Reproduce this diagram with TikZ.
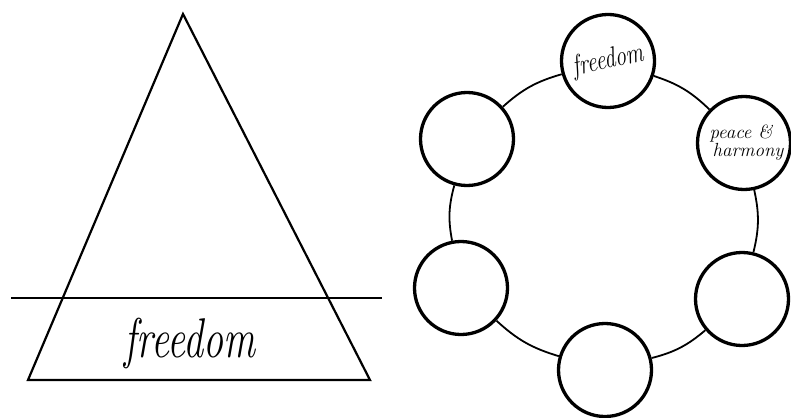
\documentclass[tikz,border=0pt]{standalone}
\usepackage{fontspec}
\usepackage{graphicx}
\begin{document}
\begin{tikzpicture}[x=1pt,y=-1pt,
  tri/.style={line width=2.2pt, line join=miter},
  ring/.style={circle, draw, line width=3.3pt, minimum size=93pt, inner sep=0pt, fill=white},
  link/.style={line width=1.8pt},
  bigword/.style={inner sep=0pt, font=\itshape\fontsize{40}{40}\selectfont},
  smallword/.style={align=center, font=\itshape\fontsize{22}{22}\selectfont},
  tinyword/.style={align=center, font=\itshape\fontsize{19}{15}\selectfont}]
\useasboundingbox (0,0) rectangle (791,417);
% pyramid
\coordinate (apex) at (183,14);
\coordinate (bl) at (28,380);
\coordinate (br) at (370,380);
\draw[tri] (apex) -- (bl) -- (br) -- cycle;
\coordinate (ll) at (11,298);
\coordinate (lr) at (382,298);
\draw[tri] (ll) -- (lr);
\node[bigword] (base) at (190,343) {\scalebox{1}[1.4]{freedom}};
% ring of circles
\node[ring, smallword, rotate=12] (c1) at (608,61) {\scalebox{1}[1.3]{freedom}};
\node[ring, tinyword] (c2) at (744,143) {\hspace*{-6pt}peace \&\\ \hspace*{8pt}harmony};
\node[ring] (c3) at (742,299) {};
\node[ring] (c4) at (605,370) {};
\node[ring] (c5) at (461,288) {};
\node[ring] (c6) at (467,139) {};
\draw[link] (c1) to[bend left=13] (c2);
\draw[link] (c2) to[bend left=13] (c3);
\draw[link] (c3) to[bend left=13] (c4);
\draw[link] (c4) to[bend left=13] (c5);
\draw[link] (c5) to[bend left=13] (c6);
\draw[link] (c6) to[bend left=13] (c1);
\end{tikzpicture}
\end{document}
